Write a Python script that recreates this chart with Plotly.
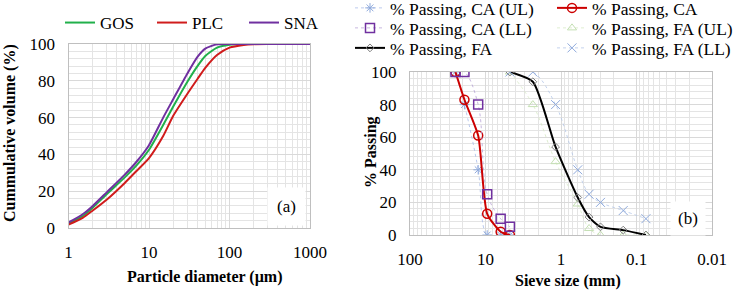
import plotly.graph_objects as go

# ---- Panel (a): particle size distribution ----
diam_um = [1, 1.5, 2, 3, 5, 7, 10, 15, 20, 30, 40, 50, 70, 100, 150, 200, 300, 500, 1000]
gos = [2.5, 6.5, 11, 18.5, 27.5, 34, 42.5, 56, 66, 79.5, 88, 93.5, 98, 99.6, 100, 100, 100, 100, 100]
plc = [1.8, 5.5, 9.5, 15.5, 24.5, 31, 38, 50, 61, 73, 81, 87, 94, 98, 99.5, 99.9, 100, 100, 100]
sna = [3, 7.5, 12, 19.5, 29, 36, 45, 60, 70, 84, 93, 97.5, 99.8, 100, 100, 100, 100, 100, 100]

# ---- Panel (b): sieve analysis ----
ca_sieve = [25, 19, 12.5, 9.5, 6.3, 4.75]
ca_ul = [100, 80, 40, 0, 0, 0]
ca_ll = [100, 100, 80, 25, 10, 5]
ca_pass = [100, 83, 61, 13, 2, 0]
fa_sieve = [4.75, 2.36, 1.18, 0.6, 0.425, 0.3, 0.15, 0.075]
fa_pass = [100, 94, 54, 23, 11, 5, 3, 0]
fa_ul = [100, 80, 45, 19, 4, 0, 0, 0]
fa_ll = [100, 100, 80, 40, 25, 20, 15, 10]

FONT = "Liberation Serif, Times New Roman, serif"
GRID = "#d9d9d9"
MINOR = "#e4e4e4"
W, H = 736, 291

fig = go.Figure()

# panel (a)
for name, ys, col in [("GOS", gos, "#21b04b"), ("PLC", plc, "#d01c1c"), ("SNA", sna, "#7030a0")]:
    fig.add_trace(go.Scatter(x=diam_um, y=ys, name=name, mode="lines",
                             line=dict(color=col, width=2, shape="spline", smoothing=0.6),
                             xaxis="x", yaxis="y", legend="legend"))

# panel (b): each entry has its own legend box to reproduce the 2x3 legend grid
b_traces = [
    dict(x=ca_sieve, y=ca_ul, name="% Passing, CA (UL)",
         line=dict(color="#a9bde8", width=0.8, dash="dot", shape="spline"),
         marker=dict(symbol="asterisk-open", size=8, color="#8faadc", line=dict(width=1, color="#8faadc"))),
    dict(x=ca_sieve, y=ca_pass, name="% Passing, CA",
         line=dict(color="#cc0000", width=2, shape="spline", smoothing=0.6),
         marker=dict(symbol="circle-open", size=9, color="#cc0000", line=dict(width=1.5, color="#cc0000"))),
    dict(x=ca_sieve, y=ca_ll, name="% Passing, CA (LL)",
         line=dict(color="#b8a3d6", width=0.8, dash="dot", shape="spline"),
         marker=dict(symbol="square-open", size=9, color="#7030a0", line=dict(width=1.5, color="#7030a0"))),
    dict(x=fa_sieve, y=fa_ul, name="% Passing, FA (UL)",
         line=dict(color="#d5e8c4", width=0.8, dash="dot", shape="spline"),
         marker=dict(symbol="triangle-up-open", size=8, color="#c5e0b4", line=dict(width=1, color="#c5e0b4"))),
    dict(x=fa_sieve, y=fa_pass, name="% Passing, FA",
         line=dict(color="#000000", width=2, shape="spline", smoothing=0.6),
         marker=dict(symbol="diamond-open", size=6, color="#808080", line=dict(width=1, color="#808080"))),
    dict(x=fa_sieve, y=fa_ll, name="% Passing, FA (LL)",
         line=dict(color="#b4c7e7", width=0.8, dash="dot", shape="spline"),
         marker=dict(symbol="x-thin-open", size=9, color="#8faadc", line=dict(width=1, color="#8faadc"))),
]
leg_pos = [(350, 8), (552, 8), (350, 28), (552, 28), (350, 48), (552, 48)]
legend_layouts = {}
for i, (t, (lx, ly)) in enumerate(zip(b_traces, leg_pos)):
    key = "legend%d" % (i + 2)
    fig.add_trace(go.Scatter(mode="lines+markers", xaxis="x2", yaxis="y2", legend=key, **t))
    legend_layouts[key] = dict(x=lx / W, y=1 - ly / H, xanchor="left", yanchor="middle",
                               font=dict(family=FONT, size=17.5, color="#000"),
                               bgcolor="rgba(0,0,0,0)")

def minor_vals(lo, hi):
    out = []
    d = lo
    while d < hi:
        for m in range(2, 10):
            out.append(m * d)
        d *= 10
    return out

ax_common = dict(showgrid=True, gridcolor=GRID, gridwidth=1, showline=True, linecolor="#bfbfbf",
                 linewidth=1, mirror=True, zeroline=False, ticks="", ticklabelstandoff=9,
                 tickfont=dict(family=FONT, size=17, color="#000"))

fig.update_layout(
    width=W, height=H, margin=dict(l=0, r=0, t=0, b=0, autoexpand=False),
    paper_bgcolor="white", plot_bgcolor="white",
    font=dict(family=FONT, color="#000"),
    xaxis=dict(ax_common, type="log", domain=[68.5 / W, 310 / W], range=[0, 3],
               tickvals=[1, 10, 100, 1000], ticktext=["1", "10", "100", "1000"],
               minor=dict(tickvals=minor_vals(1, 1000), showgrid=True, gridcolor=MINOR, ticks=""),
               anchor="y"),
    yaxis=dict(ax_common, domain=[1 - 228 / H, 1 - 44 / H], range=[0, 100], tickvals=[0, 20, 40, 60, 80, 100],
               minor=dict(dtick=4, showgrid=True, gridcolor=MINOR, ticks=""), anchor="x"),
    xaxis2=dict(ax_common, type="log", domain=[410 / W, 712 / W], range=[2, -2],
                tickvals=[100, 10, 1, 0.1, 0.01], ticktext=["100", "10", "1", "0.1", "0.01"],
                minor=dict(tickvals=minor_vals(0.01, 100), showgrid=True, gridcolor=MINOR, ticks=""),
                anchor="y2"),
    yaxis2=dict(ax_common, domain=[1 - 235 / H, 1 - 72 / H], range=[0, 100], tickvals=[0, 20, 40, 60, 80, 100],
                minor=dict(dtick=4, showgrid=True, gridcolor=MINOR, ticks=""), anchor="x2"),
    legend=dict(orientation="h", x=60 / W, y=1 - 23 / H, xanchor="left", yanchor="middle",
                font=dict(family=FONT, size=17, color="#000"), entrywidth=47, entrywidthmode="pixels",
                bgcolor="rgba(0,0,0,0)", tracegroupgap=0),
    showlegend=True,
    **legend_layouts,
)

ann = [
    dict(text="<b>Particle diameter (µm)</b>", x=205 / W, y=1 - 277 / H, font=dict(family=FONT, size=16)),
    dict(text="<b>Cummulative volume (%)</b>", x=10 / W, y=1 - 133 / H, textangle=-90,
         font=dict(family=FONT, size=16)),
    dict(text="<b>Sieve size (mm)</b>", x=568 / W, y=1 - 281 / H, font=dict(family=FONT, size=16)),
    dict(text="<b>% Passing</b>", x=371 / W, y=1 - 152 / H, textangle=-90, font=dict(family=FONT, size=16)),
    dict(text="(a)", x=286 / W, y=1 - 206 / H, bgcolor="white", borderpad=9, font=dict(family=FONT, size=17)),
    dict(text="(b)", x=688 / W, y=1 - 218 / H, bgcolor="white", borderpad=7, font=dict(family=FONT, size=17)),
]
for a in ann:
    a.update(xref="paper", yref="paper", showarrow=False, xanchor="center", yanchor="middle")
fig.update_layout(annotations=ann)

fig.write_html("out.html")
